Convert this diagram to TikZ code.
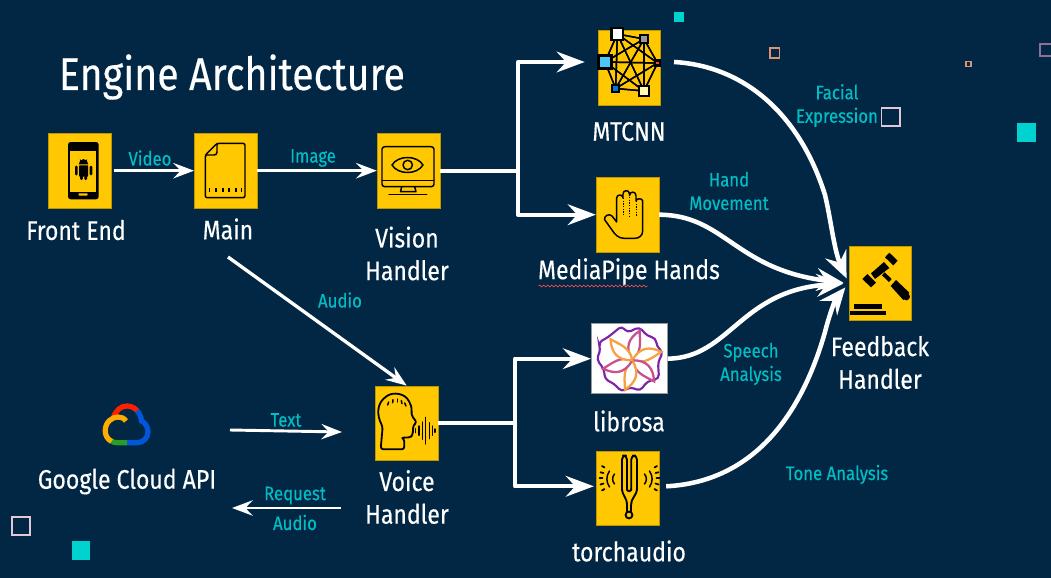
\documentclass[tikz,border=0pt]{standalone}
\usepackage{fontspec}
\setmainfont[FakeStretch=0.86,FakeBold=0.3]{Fira Sans}
\usetikzlibrary{arrows.meta,decorations.pathmorphing}
\definecolor{bgc}{RGB}{1,39,68}
\definecolor{ybox}{RGB}{255,200,0}
\definecolor{lab}{RGB}{0,190,196}
\definecolor{sq}{RGB}{0,210,207}
\definecolor{pk}{RGB}{226,200,214}
\definecolor{orsq}{RGB}{226,143,115}
\definecolor{pusq}{RGB}{140,110,150}
\definecolor{petalm}{RGB}{200,80,140}
\definecolor{petalo}{RGB}{247,160,64}
\definecolor{flowerp}{RGB}{125,35,170}
\tikzset{
  x=.75pt,y=-.75pt,
  iconbox/.style={fill=ybox,draw=ybox!75!black,line width=.5pt,minimum width=47pt,minimum height=56pt,inner sep=0pt},
  whitebox/.style={fill=white,draw=black!40,line width=.5pt,minimum width=57pt,minimum height=52.5pt,inner sep=0pt},
  ttlstyle/.style={text=white,font=\fontsize{34.3}{36}\selectfont},
  namestyle/.style={text=white,font=\fontsize{20.1}{24.5}\selectfont,align=center,inner sep=0pt},
  lbl/.style={text=lab,font=\fontsize{14.6}{17.6}\selectfont,align=center,inner sep=0pt},
  linkline/.style={draw=white,line width=3.1pt,line join=round},
  arr/.style={draw=white,line width=2.5pt,-{Stealth[inset=5.5pt,length=15.5pt,width=11.5pt]}},
  bigarr/.style={linkline,-{Stealth[inset=7pt,length=21pt,width=15.5pt]}},
  curvelink/.style={draw=white,line width=3.4pt,shorten >=4pt,-{Stealth[inset=7pt,length=20pt,width=17pt]}},
  ic/.style={draw=black,line width=1.1pt,line join=round,line cap=round},
  nn/.style={draw=black,line width=1.1pt},
  nnb/.style={draw=black,line width=1.7pt},
  petal/.style={line width=1.7pt,fill=white,line join=miter},
  gc/.style={line width=3.9pt,line cap=butt},
  crop/.style={shift={(#1)},scale=1/3},
}
\begin{document}
\begin{tikzpicture}
\useasboundingbox (0,0) rectangle (1051,578);
\clip (0,0) rectangle (1051,578);
\fill[bgc] (0,0) rectangle (1051,578);

% decorative squares
\fill[sq] (674.3,11.7) rectangle (684.3,21.7);
\fill[sq] (1017,123.3) rectangle (1036,142.3);
\fill[sq] (72,541.3) rectangle (90.3,559.7);
\draw[orsq,line width=1pt] (770,48) rectangle (779.5,58);
\draw[orsq,line width=.8pt] (966,61.3) rectangle (971,66.5);
\draw[pk,line width=1.1pt] (881.7,108) rectangle (900,126);
\draw[pk,line width=1.1pt] (12,517) rectangle (30,535);
\draw[pusq,line width=1.1pt] (1040,44) rectangle (1060,56);

% boxes
\node[iconbox] (front) at (79.9,170.7) {};
\node[iconbox] (main) at (225.7,170.7) {};
\node[iconbox] (vision) at (408.5,170.7) {};
\node[iconbox] (mtcnn) at (629.4,67.5) {};
\node[iconbox] (hands) at (627.5,214.7) {};
\node[whitebox] (librosa) at (629.3,358.7) {};
\node[iconbox] (torch) at (627.5,488.3) {};
\node[iconbox] (voice) at (406.7,423.3) {};
\node[iconbox] (feedback) at (880.4,283.3) {};

% phone
\fill[black,rounded corners=2pt] (68,142) rectangle (98.7,199.3);
\fill[ybox] (70.3,151) rectangle (96.3,191.7);
\fill[ybox,rounded corners=.5pt] (78.5,193.3) rectangle (87.5,195.5);
\fill[black] (78.8,164.3) arc[start angle=180,end angle=0,x radius=4.7,y radius=-5.2] -- cycle;
\draw[black,line width=.5pt] (80,159.5) -- (81,161) (87,159.5) -- (86,161);
\fill[black,rounded corners=.6pt] (79,165.3) rectangle (88.2,176.7);
\fill[black,rounded corners=1pt] (75,165.5) rectangle (77.6,175.5);
\fill[black,rounded corners=1pt] (89.7,165.5) rectangle (92.3,175.5);
\fill[black,rounded corners=.8pt] (80.2,174) rectangle (82.8,180);
\fill[black,rounded corners=.8pt] (84.4,174) rectangle (87,180);

% document
\draw[ic,rounded corners=1.5pt] (217,143.3) -- (245,143.3) -- (245,197.7) -- (205.3,197.7) -- (205.3,155) -- cycle;
\draw[ic] (217,143.3) -- (217,152) .. controls (217,154) and (216,155) .. (214,155) -- (205.3,155);
\draw[black,line width=2.6pt,dash pattern=on 1.3pt off 3.6pt] (208.7,190) -- (241.5,190);

% monitor
\draw[ic,rounded corners=2pt] (382,146.7) rectangle (434,186.7);
\draw[ic] (382,180.7) -- (434,180.7);
\draw[ic] (392,165) .. controls (398,155) and (417,155) .. (423,165) .. controls (417,175) and (398,175) .. (392,165) -- cycle;
\draw[ic] (407.7,165) circle[radius=4.7];
\draw[ic] (401.7,186.7) -- (400.5,191.7) -- (416,191.7) -- (414.7,186.7);
\draw[ic] (389,194.5) -- (426.7,194.5);

% network
\foreach \a/\b in {617.3/34,644/39,605/62,657.5/63,615.7/88.5,644/91}
 \foreach \c/\d in {617.3/34,644/39,605/62,657.5/63,615.7/88.5,644/91}
  \draw[nn] (\a,\b) -- (\c,\d);
\filldraw[nnb,fill=white] (611.6,28.3) rectangle (623,39.7);
\filldraw[nnb,fill=black!40] (640,35) rectangle (648,43);
\filldraw[nnb,fill=cyan!70!white] (598.5,55.5) rectangle (611.5,68.5);
\filldraw[nnb,fill=red!75!white] (655,60.5) rectangle (660,65.5);
\filldraw[nnb,fill=blue!45!cyan!85!black] (612.2,85) rectangle (619.2,92);
\filldraw[nnb,fill=yellow!30!white] (639,86) rectangle (649,96);

% hand
\draw[ic] (616.7,222) -- (616.7,198) .. controls (616.7,194) and (623,194) .. (623,198) -- (623,194) .. controls (623,189.5) and (629.5,189.5) .. (629.5,194) -- (629.5,195.5) .. controls (629.5,191) and (636,191) .. (636,195.5) -- (636,201) .. controls (636,198) and (642.7,198) .. (642.7,201) -- (642.7,231) .. controls (642.7,235.5) and (639,238.3) .. (635,238.3) -- (624,238.3) .. controls (619,238.3) and (615,235) .. (612,230) -- (604.5,219.5) .. controls (604,216) and (609,213) .. (612,216) -- (616.7,222);
\draw[black,line width=.7pt,dash pattern=on 1pt off 1pt] (623,198) -- (623,216) (629.5,197) -- (629.5,216) (636,201) -- (636,216);

% flower
\begin{scope}[crop={590,322}]
\draw[flowerp,line width=1.6pt,rounded corners=3pt] (95,12) -- (112,32) -- (148,15) -- (172,42) -- (197,48) -- (200,72) -- (219,92) -- (204,120) -- (207,170) -- (172,178) -- (150,207) -- (122,195) -- (95,209) -- (72,185) -- (45,172) -- (42,142) -- (20,112) -- (32,82) -- (25,62) -- (55,45) -- cycle;
\end{scope}
\foreach \r/\c in {0/petalm,60/petalo,120/petalm,180/petalo,240/petalm,300/petalo}
  \draw[petal,draw=\c,rotate around={-14-\r:(632.3,360.3)}] (632.3,360.3) .. controls (622,350) and (623,340) .. (632.3,330) .. controls (635,340) and (640,350) .. (632.3,360.3) -- cycle;

% fork
\draw[ic,line width=1.4pt,rounded corners=3pt] (622,490) -- (622,455.5) -- (627,455.5) -- (627,490) (631.2,490) -- (631.2,455.5) -- (637,455.5) -- (637,490);
\draw[ic,line width=1.4pt] (622,488) .. controls (622,496) and (627,497) .. (627,505) (637,488) .. controls (637,496) and (631.2,497) .. (631.2,505);
\draw[ic,line width=1.4pt] (627,489) .. controls (627,492) and (631.2,492) .. (631.2,489);
\draw[ic,line width=1.4pt] (627,505) -- (627,511.5) (631.2,505) -- (631.2,511.5);
\draw[ic,line width=1.4pt] (629,515) circle[radius=3.4];
\foreach \sx/\xa in {-1/629.5,1/629.5}{
  \begin{scope}[shift={(\xa,0)},xscale=\sx]
   \draw[ic] (15,474) .. controls (17.5,477) and (17.5,481) .. (15,484);
   \draw[ic] (20,471) .. controls (23.5,476) and (23.5,482) .. (20,487);
   \draw[ic,line width=1.3pt] (25,467.5) -- (27.5,466) (26,473) -- (29,472.3) (27,478) -- (30,478) (26,483.5) -- (29,484.5) (25,489) -- (27.5,490.5);
  \end{scope}}

% head
\begin{scope}[crop={370,380}]
\draw[ic,line width=1.35pt,rounded corners=2pt] (103,208) -- (32,208) -- (38,140) .. controls (20,105) and (22,75) .. (45,52) .. controls (70,35) and (105,40) .. (120,70) .. controls (126,85) and (124,100) .. (128,112) -- (141,127) -- (130,135) -- (128,165) -- (120,173) -- (95,172) -- (103,178) -- cycle;
\foreach \xa/\ya/\xb/\yb in {53/75/56/66,68/68/69/59,83/66/83/57,96/71/94/62,108/78/104/69}
  \draw[black,line width=1.1pt,line cap=round] (\xa,\ya) -- (\xb,\yb);
\foreach \x/\h in {137/6,147/14,157/26,167/40,178/24,188/14,195/5}
  \draw[black,line width=.95pt,line cap=round] (\x,152-\h) -- (\x,152+\h);
\end{scope}

% gavel
\begin{scope}[crop={790,240}]
\fill[black] (298,38) -- (323,62) -- (310,76) -- (285,52) -- cycle;
\fill[black] (243,100) -- (282,66) -- (298,84) -- (255,117) -- cycle;
\fill[black] (232,102) -- (258,128) -- (243,142) -- (217,117) -- cycle;
\fill[black] (284,97) -- (305,117) -- (297,126) -- (276,106) -- cycle;
\fill[black] (318,120) -- (358,158) -- (340,180) -- (302,138) -- cycle;
\fill[black] (349,170) circle[radius=11];
\fill[black] (191,193) rectangle (277,206);
\fill[black] (181,212) rectangle (287,224);
\end{scope}

% google cloud
\draw[gc,draw=red!75!orange] (113.5,417.5) .. controls (116,410) and (121,406) .. (127,406) .. controls (131,406) and (135,408) .. (137.5,411);
\draw[gc,draw=blue!60!cyan!85!black] (137,410.5) .. controls (140,414) and (141,417) .. (141.5,421) .. controls (146,423) and (148,428) .. (148,432) .. controls (148,438) and (143,442.7) .. (137,442.7) -- (126.5,442.7);
\draw[gc,draw=green!55!black!85!white] (127,442.7) -- (117,442.7) .. controls (114.5,442.7) and (112.5,442) .. (110.5,440.5);
\draw[gc,draw=orange!65!yellow] (111.5,441.5) .. controls (107,439) and (105.2,434.5) .. (105.2,431) .. controls (105.2,422) and (112,417) .. (118,417) .. controls (121,417) and (124,418) .. (126,421);

% texts
\node[ttlstyle] (ttl) at (232,77) {Engine Architecture};
\node[namestyle] (tfront) at (76,230) {Front End};
\node[namestyle] (tmain) at (228,229) {Main};
\node[namestyle] (tvision) at (407,253.5) {Vision\\Handler};
\node[namestyle] (tmtcnn) at (629,131.5) {MTCNN};
\node[namestyle] (thands) at (629,271.5) {MediaPipe Hands};
\node[namestyle] (tlibrosa) at (629,421) {librosa};
\node[namestyle] (ttorch) at (629,551) {torchaudio};
\node[namestyle] (tfeedback) at (880,362.5) {Feedback\\Handler};
\node[namestyle] (tgoogle) at (127,481.5) {Google Cloud API};
\node[namestyle] (tvoice) at (407,497) {Voice\\Handler};

\node[lbl] (lvideo) at (150,158) {Video};
\node[lbl] (limage) at (313,158) {Image};
\node[lbl] (laudio) at (340,300) {Audio};
\node[lbl] (ltext) at (286,420) {Text};
\node[lbl] (lrequest) at (295,495.5) {Request};
\node[lbl] (laudiob) at (295,522.5) {Audio};
\node[lbl] (lfacial) at (837,105.5) {Facial\\Expression};
\node[lbl] (lhand) at (729,191) {Hand\\Movement};
\node[lbl] (lspeech) at (751,364) {Speech\\Analysis};
\node[lbl] (ltone) at (837,474.5) {Tone Analysis};

% spell-check squiggle
\coordinate (sqa) at (538.5,286);
\coordinate (sqb) at (647.5,286);
\draw[red!70!white,line width=.5pt,decorate,decoration={snake,amplitude=.7pt,segment length=3pt}] (sqa) -- (sqb);

% connectors
\coordinate (splitv) at (518,170.7);
\coordinate (splita) at (515,423.3);
\coordinate (textin) at (230,430);
\coordinate (textout) at (342,432);
\coordinate (reqin) at (341,508);
\coordinate (reqout) at (232,508);
\coordinate (audiostart) at (228,257);
\draw[arr,shorten <=1.5pt] (front.east) -- (main.west);
\draw[arr] (main.east) -- (vision.west);
\draw[linkline] (vision.east) -- (splitv);
\draw[bigarr] (splitv) |- ([shift={(-13,-5.5)}]mtcnn.west);
\draw[bigarr] (splitv) |- (hands.west);
\draw[arr] (audiostart) -- (voice.north);
\draw[linkline] (voice.east) -- (splita);
\draw[bigarr] (splita) |- (librosa.west);
\draw[bigarr] (splita) |- ([shift={(-2,-2)}]torch.west);
\draw[arr,line width=2.2pt] (textin) -- (textout);
\draw[arr,line width=2.2pt] (reqin) -- (reqout);
\draw[curvelink] ([shift={(13,-5.5)}]mtcnn.east) .. controls (745,66) and (800,115) .. (825,195) .. controls (831,220) and (834,250) .. (feedback.west);
\draw[curvelink] (hands.east) .. controls (725,215) and (735,270) .. (feedback.west);
\draw[curvelink] (librosa.east) .. controls (730,358) and (740,290) .. (feedback.west);
\draw[curvelink] ([shift={(7,-2)}]torch.east) .. controls (750,482) and (800,420) .. (825,332) .. controls (829,316) and (835,300) .. (feedback.west);
\end{tikzpicture}
\end{document}
